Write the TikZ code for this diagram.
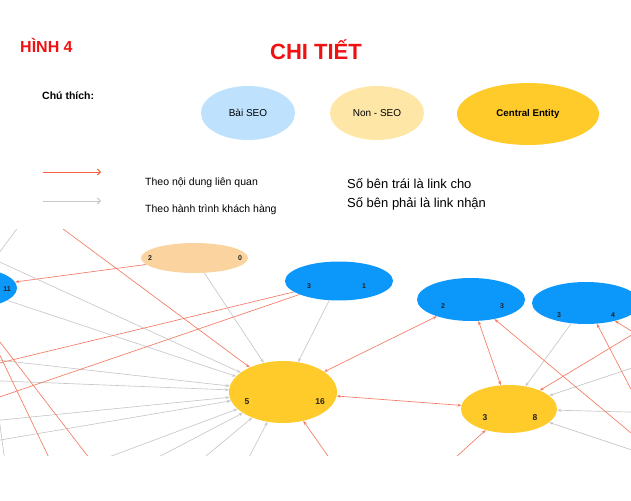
\documentclass[tikz,border=0pt]{standalone}
\usepackage{fontspec}
\setmainfont{Liberation Sans}
\usetikzlibrary{arrows.meta,shapes.geometric}
\definecolor{redline}{HTML}{F47A62}
\definecolor{legendred}{HTML}{F5633F}
\definecolor{grayline}{HTML}{C8C8C8}
\definecolor{seoblue}{HTML}{0C97FB}
\definecolor{centralyellow}{HTML}{FECB2A}
\definecolor{peach}{HTML}{FBD39E}
\definecolor{lightblue}{HTML}{BEE2FD}
\definecolor{lightyellow}{HTML}{FEE7A6}
\definecolor{titlered}{HTML}{F01212}
\definecolor{labeltext}{HTML}{222222}
\tikzset{
  ell/.style={ellipse, inner sep=0pt, draw=none},
  txt/.style={inner sep=0pt, anchor=west, text=black},
  numlbl/.style={inner sep=0pt, text=labeltext, font=\fontsize{7}{7}\selectfont\bfseries},
  biglbl/.style={inner sep=0pt, text=labeltext, font=\fontsize{8.5}{8.5}\selectfont\bfseries},
  redge/.style={draw=redline, line width=0.65pt, -{Stealth[length=4pt,width=3pt]}},
  gedge/.style={draw=grayline, line width=0.65pt, -{Stealth[length=4pt,width=3pt]}},
  rboth/.style={draw=redline, line width=0.65pt, {Stealth[length=4pt,width=3pt]}-{Stealth[length=4pt,width=3pt]}},
  rplain/.style={draw=redline, line width=0.65pt},
  gplain/.style={draw=grayline, line width=0.65pt},
  legred/.style={draw=legendred, line width=0.9pt, -{Straight Barb[length=3pt,width=6pt]}},
  leggray/.style={draw=grayline, line width=0.9pt, -{Straight Barb[length=3pt,width=6pt]}}
}
\begin{document}
\begin{tikzpicture}[x=1pt,y=-1pt]
\useasboundingbox (0,0) rectangle (631,500);
\fill[white] (0,0) rectangle (631,500);

% ---------- header ----------
\node[txt, text=titlered, font=\fontsize{16}{16}\selectfont\bfseries] (hinh) at (20,45) {HÌNH 4};
\node[inner sep=0pt, text=titlered, font=\fontsize{22}{22}\selectfont\bfseries] (title) at (316,50) {CHI TIẾT};
\node[txt, font=\fontsize{10.5}{10.5}\selectfont\bfseries] (chuthich) at (42,96) {Chú thích:};

\node[ell, fill=lightblue, minimum width=94pt, minimum height=54pt, font=\fontsize{10}{10}\selectfont] (legseo) at (248,113) {Bài SEO};
\node[ell, fill=lightyellow, minimum width=94pt, minimum height=54pt, font=\fontsize{10}{10}\selectfont] (legnon) at (377,113) {Non - SEO};
\node[ell, fill=centralyellow, minimum width=142pt, minimum height=62pt, font=\fontsize{9.7}{9.7}\selectfont\bfseries] (legcen) at (528,114) {Central Entity};

\coordinate (lr1) at (43,172);
\coordinate (lr2) at (101,172);
\coordinate (lg1) at (43,201);
\coordinate (lg2) at (101,201);
\draw[legred] (lr1) -- (lr2);
\draw[leggray] (lg1) -- (lg2);
\node[txt, font=\fontsize{10.5}{10.5}\selectfont] (t1) at (145,183) {Theo nội dung liên quan};
\node[txt, font=\fontsize{10.5}{10.5}\selectfont] (t2) at (145,210) {Theo hành trình khách hàng};
\node[txt, font=\fontsize{13}{13}\selectfont] (n1) at (347,184) {Số bên trái là link cho};
\node[txt, font=\fontsize{13}{13}\selectfont] (n2) at (347,204) {Số bên phải là link nhận};

% ---------- graph (cropped view) ----------
\begin{scope}
\clip (0,229) rectangle (631,455);

% nodes
\node[ell, fill=seoblue, minimum width=94pt, minimum height=40pt] (b11) at (-30,288) {};
\node[ell, fill=peach, minimum width=107pt, minimum height=30pt] (p20) at (194.5,258) {};
\node[ell, fill=seoblue, minimum width=108pt, minimum height=39pt] (b31) at (339,281) {};
\node[ell, fill=seoblue, minimum width=108pt, minimum height=43pt] (b23) at (471,299.5) {};
\node[ell, fill=seoblue, minimum width=108pt, minimum height=42pt] (b34) at (586,303) {};
\node[ell, fill=centralyellow, minimum width=108pt, minimum height=62pt] (y1) at (283,392) {};
\node[ell, fill=centralyellow, minimum width=96pt, minimum height=48pt] (y2) at (509,409) {};

% labels
\node[numlbl] (lb11) at (7,289) {11};
\node[numlbl] (lp2) at (150,258) {2};
\node[numlbl] (lp0) at (240,258) {0};
\node[numlbl] (lb31a) at (309,286) {3};
\node[numlbl] (lb31b) at (364,286) {1};
\node[numlbl] (lb23a) at (443,306) {2};
\node[numlbl] (lb23b) at (502,306) {3};
\node[numlbl] (lb34a) at (559,315) {3};
\node[numlbl] (lb34b) at (613,315) {4};
\node[biglbl] (ly1a) at (247,402) {5};
\node[biglbl] (ly1b) at (320,402) {16};
\node[biglbl] (ly2a) at (485,418) {3};
\node[biglbl] (ly2b) at (535,418) {8};

% off-screen ends
\coordinate (o1) at (-3,180);
\coordinate (o2) at (-57,236);
\coordinate (o3) at (-100,349);
\coordinate (o4) at (-100,377);
\coordinate (o5) at (-100,430);
\coordinate (o6) at (-100,457);
\coordinate (o7) at (31,486);
\coordinate (o8) at (103,486);
\coordinate (o9) at (170,486);
\coordinate (o10) at (234,486);
\coordinate (o11) at (349,486);
\coordinate (o12) at (-100,387);
\coordinate (o13) at (-100,431);
\coordinate (o14a) at (-17,320);
\coordinate (o14b) at (63,487);
\coordinate (o15a) at (-100,212);
\coordinate (o15b) at (103,476);
\coordinate (o16a) at (25,218);
\coordinate (o16b) at (-10,265);
\coordinate (o17a) at (-2,410);
\coordinate (o17b) at (6,470);
\coordinate (o18) at (668,313);
\coordinate (o19) at (668,356);
\coordinate (o20) at (668,413);
\coordinate (o21) at (668,462);
\coordinate (o22) at (445,467);
\coordinate (o23) at (679,473);
\coordinate (o24) at (680,483);
\coordinate (o25) at (680,361);
\coordinate (o26) at (680,323);

% edges into y1
\draw[redge] (o1) -- (y1);
\draw[gedge] (p20) -- (y1);
\draw[gedge] (b31) -- (y1);
\draw[gedge] (o2) -- (y1);
\draw[gedge] (b11) -- (y1);
\draw[gedge] (o3) -- (y1);
\draw[gedge] (o4) -- (y1);
\draw[gedge] (o5) -- (y1);
\draw[gedge] (o6) -- (y1);
\draw[gedge] (o7) -- (y1);
\draw[gedge] (o8) -- (y1);
\draw[gedge] (o9) -- (y1);
\draw[gedge] (o10) -- (y1);
\draw[redge] (o11) -- (y1);
\draw[redge] (p20) -- (b11);
\draw[redge] (b31) -- (o12);
\draw[redge] (b31) -- (o13);
\draw[rplain] (o14a) -- (o14b);
\draw[rplain] (o15a) -- (o15b);
\draw[gplain] (o16a) -- (o16b);
\draw[gplain] (o17a) -- (o17b);

% between central nodes and blue nodes
\draw[rboth] (y1) -- (b23);
\draw[rboth] (y1) -- (y2);
\draw[rboth] (b23) -- (y2);
\draw[gedge] (b34) -- (y2);

% edges into y2
\draw[redge] (o18) -- (y2);
\draw[gedge] (o19) -- (y2);
\draw[gedge] (o20) -- (y2);
\draw[gedge] (o21) -- (y2);
\draw[redge] (o22) -- (y2);

% edges into blue nodes on the right
\draw[redge] (o23) -- (b23);
\draw[redge] (o24) -- (b34);
\draw[redge] (o25) -- (b34);
\draw[redge] (o26) -- (b34);
\end{scope}
\end{tikzpicture}
\end{document}
